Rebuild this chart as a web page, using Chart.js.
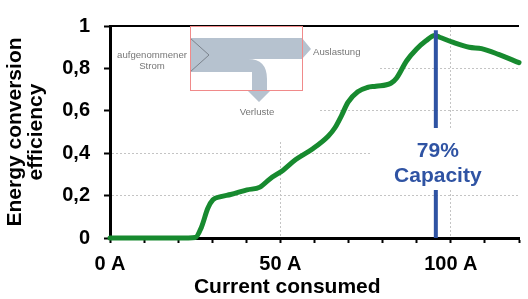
<!DOCTYPE html>
<html><head><meta charset="utf-8">
<script src="https://cdn.jsdelivr.net/npm/chart.js@4.4.1/dist/chart.umd.min.js"></script>
<style>html,body{margin:0;padding:0;background:#fff;overflow:hidden}canvas{display:block}</style>
</head><body>
<canvas id="c" width="528" height="299"></canvas>
<script>
// ---- data ----
const currentA = [0, 10, 20, 23, 25, 26.8, 28.7, 30.2, 32.5, 35.4, 40.2, 44, 47, 50.8, 54.5, 59.4, 64, 66, 68, 69.8, 72.7, 75.5, 78, 82.4, 84.1, 87, 89.9, 92.7, 95.3, 96.7, 100.5, 105.4, 109, 114, 120];
const efficiency = [0, 0, 0, 0, 0.002, 0.05, 0.14, 0.18, 0.195, 0.205, 0.227, 0.24, 0.28, 0.32, 0.37, 0.42, 0.48, 0.52, 0.58, 0.64, 0.69, 0.71, 0.716, 0.73, 0.755, 0.835, 0.89, 0.93, 0.955, 0.947, 0.924, 0.90, 0.893, 0.866, 0.827];
const markerCurrent = [95.6, 95.6];
const markerLevel = [0, 0.98];
const markerText = ['79%', 'Capacity'];
const xTickValues = [0, 10, 20, 30, 40, 50, 60, 70, 80, 90, 100, 110, 120];
const xTickLabels = ['0 A', '', '', '', '', '50 A', '', '', '', '', '100 A', '', ''];
const yTickValues = [0, 0.2, 0.4, 0.6, 0.8, 1];
const yTickLabels = ['0', '0,2', '0,4', '0,6', '0,8', '1'];
const xTitle = 'Current consumed';
const yTitle = ['Energy conversion', 'efficiency'];
const insetLabels = ['aufgenommener', 'Strom', 'Auslastung', 'Verluste'];

const FAMILY = '"Liberation Sans", Arial, Helvetica, sans-serif';
const GREEN = '#178a2f';
const BLUE = '#2f53a3';

const decor = {
  id: 'decor',
  beforeDatasetsDraw(chart) {
    const {ctx, chartArea, scales: {y}} = chart;
    ctx.save();
    // inset picture background (covers grid)
    ctx.fillStyle = '#fff';
    ctx.fillRect(112, 20, 208, 120);
    ctx.fillRect(320, 20, 60, 60);
    // top frame line
    ctx.strokeStyle = '#000';
    ctx.lineWidth = 2;
    const ty = y.getPixelForValue(1);
    ctx.beginPath(); ctx.moveTo(chartArea.left, ty); ctx.lineTo(chartArea.right, ty); ctx.stroke();
    // inset diagram
    ctx.fillStyle = '#b6c2cf';
    ctx.beginPath();
    ctx.moveTo(190, 38);
    ctx.lineTo(302, 38);
    ctx.lineTo(311, 49);
    ctx.lineTo(302, 59);
    ctx.lineTo(248, 59);
    ctx.quadraticCurveTo(267, 59, 267, 79);
    ctx.lineTo(267, 90);
    ctx.lineTo(271, 90);
    ctx.lineTo(259, 102);
    ctx.lineTo(247, 90);
    ctx.lineTo(252, 90);
    ctx.lineTo(252, 72);
    ctx.lineTo(190, 72);
    ctx.closePath();
    ctx.fill();
    ctx.strokeStyle = '#7b828c';
    ctx.lineWidth = 1;
    ctx.beginPath(); ctx.moveTo(190, 38); ctx.lineTo(209, 55); ctx.lineTo(190, 72); ctx.stroke();
    ctx.strokeStyle = '#f08a8a';
    ctx.strokeRect(190.5, 26.5, 112, 64);
    ctx.fillStyle = '#777';
    ctx.font = '9.6px ' + FAMILY;
    ctx.textBaseline = 'middle';
    ctx.textAlign = 'center';
    ctx.fillText(insetLabels[0], 152, 55);
    ctx.fillText(insetLabels[1], 152, 66);
    ctx.fillText(insetLabels[3], 257, 112);
    ctx.textAlign = 'left';
    ctx.fillText(insetLabels[2], 313, 52);
    ctx.restore();
  },
  afterDatasetsDraw(chart) {
    const {ctx, scales: {x}} = chart;
    ctx.save();
    ctx.fillStyle = '#fff';
    ctx.fillRect(372, 128, 148, 62);
    const cx = x.getPixelForValue(markerCurrent[0]) + 2;
    ctx.fillStyle = BLUE;
    ctx.font = 'bold 21px ' + FAMILY;
    ctx.textAlign = 'center';
    ctx.textBaseline = 'alphabetic';
    ctx.fillText(markerText[0], cx, 157);
    ctx.fillText(markerText[1], cx, 182);
    ctx.restore();
  },
  afterDraw(chart) {
    const {ctx, scales: {x}} = chart;
    ctx.save();
    ctx.fillStyle = '#000';
    ctx.font = 'bold 21px ' + FAMILY;
    ctx.textAlign = 'center';
    ctx.textBaseline = 'alphabetic';
    ctx.fillText(xTitle, x.getPixelForValue(52), 293);
    ctx.restore();
  }
};

new Chart(document.getElementById('c'), {
  type: 'line',
  data: {
    datasets: [
      {
        data: currentA.map((v, i) => ({x: v, y: efficiency[i]})),
        borderColor: GREEN, borderWidth: 5, pointRadius: 0,
        cubicInterpolationMode: 'monotone', borderCapStyle: 'round', borderJoinStyle: 'round',
        order: 1, clip: 4
      },
      {
        data: markerCurrent.map((v, i) => ({x: v, y: markerLevel[i]})),
        borderColor: BLUE, borderWidth: 4, pointRadius: 0, order: 0
      }
    ]
  },
  options: {
    responsive: false, animation: false, events: [],
    layout: {padding: {top: 13, left: 0, right: 0, bottom: 0}},
    plugins: {legend: {display: false}, tooltip: {enabled: false}},
    scales: {
      x: {
        type: 'linear', min: 0, max: 120,
        afterBuildTicks: s => { s.ticks = xTickValues.map(v => ({value: v})); },
        afterFit: s => { s.height = 61; },
        ticks: {
          autoSkip: false, maxRotation: 0, padding: 9, color: '#000',
          font: {family: FAMILY, size: 20, weight: 'bold'},
          callback: v => xTickLabels[xTickValues.indexOf(v)]
        },
        grid: {
          color: c => (c.tick && (c.tick.value === 50 || c.tick.value === 100)) ? '#c4c4c4' : 'rgba(0,0,0,0)',
          lineWidth: 1, drawTicks: true, tickLength: 5, tickColor: '#000', tickWidth: 2
        },
        border: {display: true, color: '#000', width: 3, dash: [2, 2]}
      },
      y: {
        min: 0, max: 1,
        afterBuildTicks: s => { s.ticks = yTickValues.map(v => ({value: v})); },
        afterFit: s => { s.width = 110; },
        ticks: {
          autoSkip: false, padding: 14, color: '#000',
          font: {family: FAMILY, size: 20, weight: 'bold'},
          callback: v => yTickLabels[yTickValues.indexOf(v)]
        },
        grid: {
          color: c => (c.tick && c.tick.value > 0 && c.tick.value < 1) ? '#c4c4c4' : 'rgba(0,0,0,0)',
          lineWidth: 1, drawTicks: true, tickLength: 6, tickColor: '#000', tickWidth: 2
        },
        border: {display: true, color: '#000', width: 3, dash: [2, 2]},
        title: {
          display: true, text: yTitle, color: '#000',
          font: {family: FAMILY, size: 21, weight: 'bold', lineHeight: 1.0},
          padding: {top: 4.5, bottom: 0}
        }
      }
    }
  },
  plugins: [decor]
});
</script>
</body></html>
